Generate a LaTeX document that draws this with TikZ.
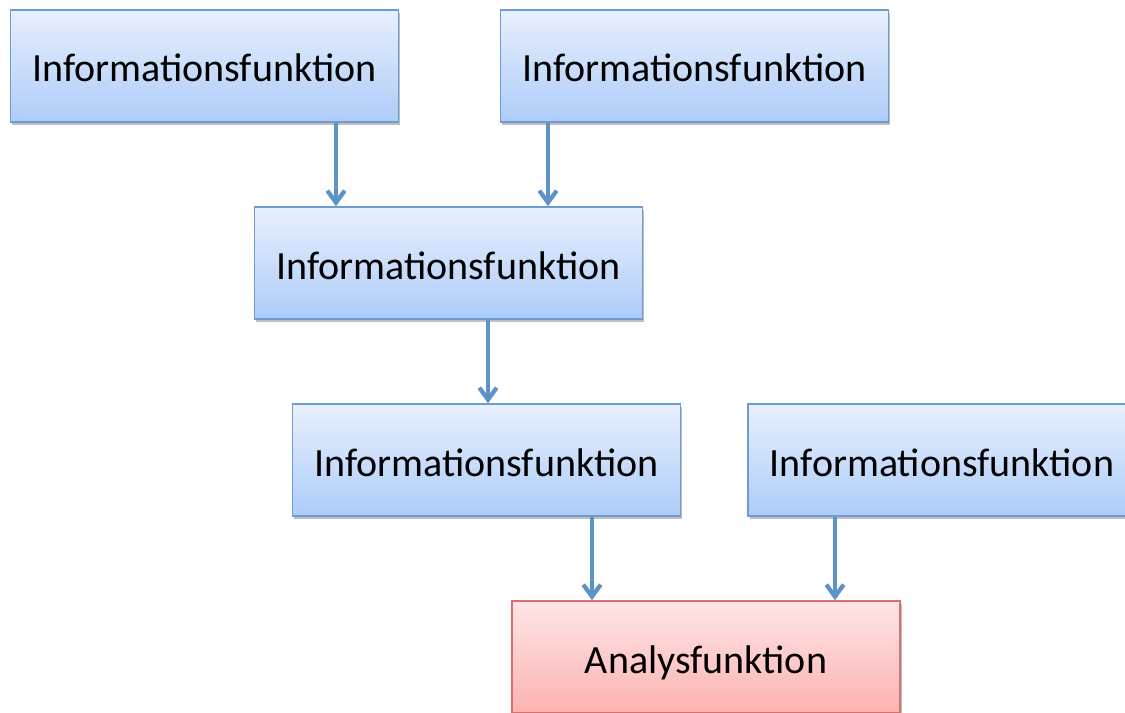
\documentclass[tikz,border=0pt]{standalone}
\usepackage{fontspec}
\setmainfont{Carlito}
\usetikzlibrary{arrows.meta,shadows,calc}
\definecolor{bluetop}{HTML}{E8F0FD}
\definecolor{bluebot}{HTML}{ADCCF9}
\definecolor{blueline}{HTML}{6E9BD0}
\definecolor{redtop}{HTML}{FEE6E6}
\definecolor{redbot}{HTML}{FDB2B2}
\definecolor{redline}{HTML}{D7716F}
\definecolor{arrowcol}{HTML}{5E93CA}
\tikzset{
  infobox/.style={rectangle, draw=blueline, line width=1.1pt,
    top color=bluetop, bottom color=bluebot,
    minimum width=388*0.75pt, minimum height=112*0.75pt, inner sep=0pt,
    font=\fontsize{30}{35}\selectfont, text depth=0pt, text height=24pt,
    drop shadow={shadow xshift=1.2pt, shadow yshift=-2pt, opacity=0.45, fill=black!55}},
  anabox/.style={infobox, draw=redline, top color=redtop, bottom color=redbot},
  arr/.style={draw=arrowcol, line width=3.6pt,
    -{Straight Barb[length=9pt, width=13pt, line width=3.2pt]}},
}
\begin{document}
\begin{tikzpicture}[x=0.75pt,y=-0.75pt]
\useasboundingbox (0,0) rectangle (1125,713);
\clip (0,0) rectangle (1125,713);
\fill[white] (0,0) rectangle (1125,713);
\node[infobox] (b1) at (204.5,66) {Informationsfunktion};
\node[infobox] (b2) at (694.5,66) {Informationsfunktion};
\node[infobox] (b3) at (448.5,263) {Informationsfunktion};
\node[infobox] (b4) at (486.5,460) {Informationsfunktion};
\node[infobox] (b5) at (942,460) {Informationsfunktion};
\node[anabox] (b6) at (706,657) {Analysfunktion};
\coordinate (x1) at (336,0);
\coordinate (x2) at (548,0);
\coordinate (x3) at (488,0);
\coordinate (x4) at (592,0);
\coordinate (x5) at (835,0);
\draw[arr] (b1.south -| x1) -- (b3.north -| x1);
\draw[arr] (b2.south -| x2) -- (b3.north -| x2);
\draw[arr] (b3.south -| x3) -- (b4.north -| x3);
\draw[arr] (b4.south -| x4) -- (b6.north -| x4);
\draw[arr] (b5.south -| x5) -- (b6.north -| x5);
\end{tikzpicture}
\end{document}
